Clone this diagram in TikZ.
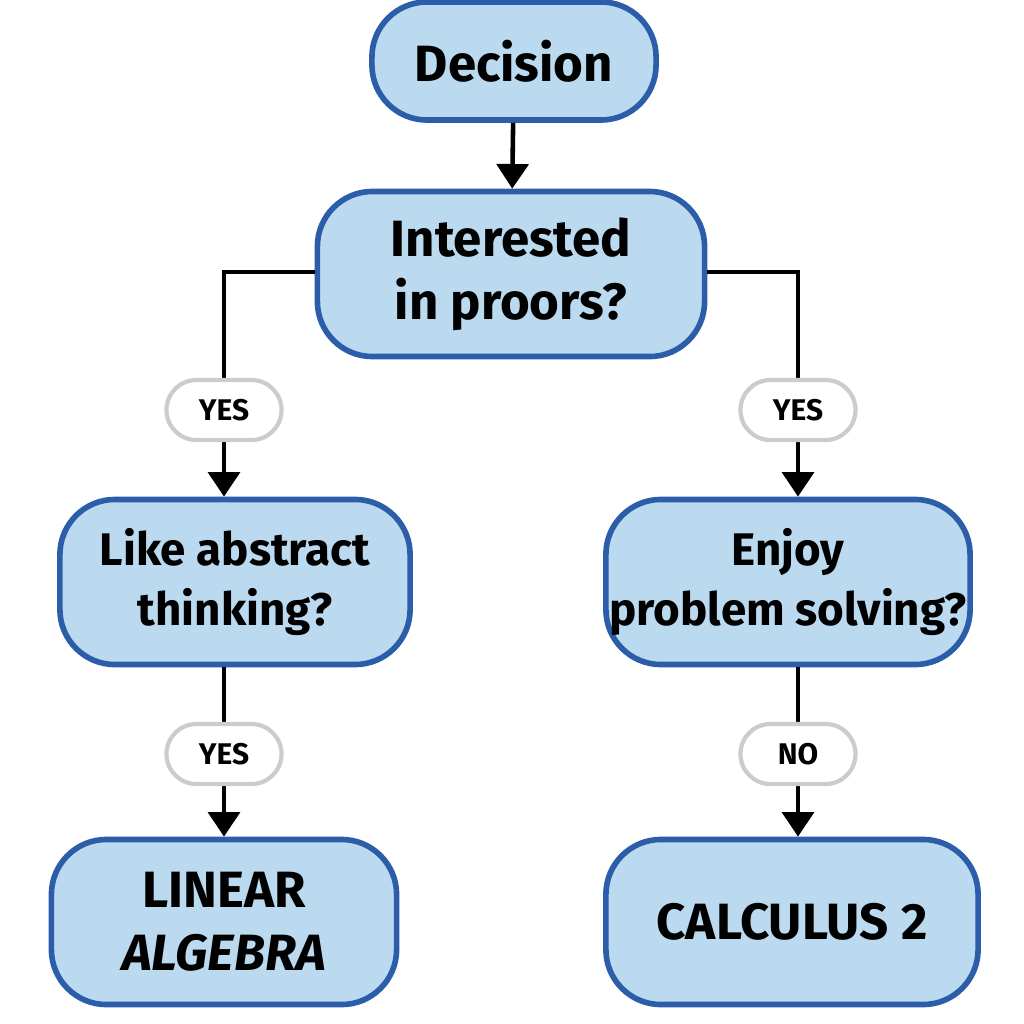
\documentclass[tikz,border=0pt]{standalone}
\usepackage{fontspec}
\setmainfont{Fira Sans}
\usetikzlibrary{arrows.meta}
\definecolor{boxfill}{HTML}{BBD9EF}
\definecolor{boxline}{HTML}{2B5DA8}
\begin{document}
\begin{tikzpicture}[x=0.01cm,y=-0.01cm,
  box/.style={draw=boxline,fill=boxfill,line width=1.6pt,rounded corners=0.55cm,align=center,inner sep=0pt,font=\fontsize{13}{17}\selectfont\bfseries},
  big/.style={font=\fontsize{14.5}{18}\selectfont\bfseries},
  lab/.style={draw=black!20,fill=white,line width=1.2pt,rounded corners=0.3cm,minimum width=1.15cm,minimum height=0.6cm,inner sep=0pt,font=\fontsize{8.5}{10}\selectfont\bfseries},
  conn/.style={line width=1.3pt,-{Triangle[length=7pt,width=9pt]}}]
\useasboundingbox (0,0) rectangle (1024,1024);
\node[box,big,minimum width=2.84cm,minimum height=1.18cm] (d) at (514,61) {Decision};
\node[box,big,minimum width=3.87cm,minimum height=1.65cm] (i) at (511,274) {Interested\\in proors?};
\node[box,minimum width=3.5cm,minimum height=1.65cm] (l) at (235,582) {Like abstract\\thinking?};
\node[box,minimum width=3.64cm,minimum height=1.65cm] (e) at (788,582) {Enjoy\\problem solving?};
\node[box,big,minimum width=3.45cm,minimum height=1.65cm] (la) at (224,922) {LINEAR\\\itshape ALGEBRA};
\node[box,big,minimum width=3.72cm,minimum height=1.65cm] (c) at (792,922) {CALCULUS 2};
\coordinate (il) at (224,272);
\coordinate (ir) at (798,272);
\draw[conn] (d) -- (i);
\draw[conn] (i.west|-il) -- (il) -- (il|-l.north);
\draw[conn] (i.east|-ir) -- (ir) -- (ir|-e.north);
\draw[conn] (l.south-|il) -- (il|-la.north);
\draw[conn] (e.south-|ir) -- (ir|-c.north);
\node[lab] (y1) at (224,410) {YES};
\node[lab] (y2) at (798,410) {YES};
\node[lab] (y3) at (224,754) {YES};
\node[lab] (n1) at (798,754) {NO};
\end{tikzpicture}
\end{document}
